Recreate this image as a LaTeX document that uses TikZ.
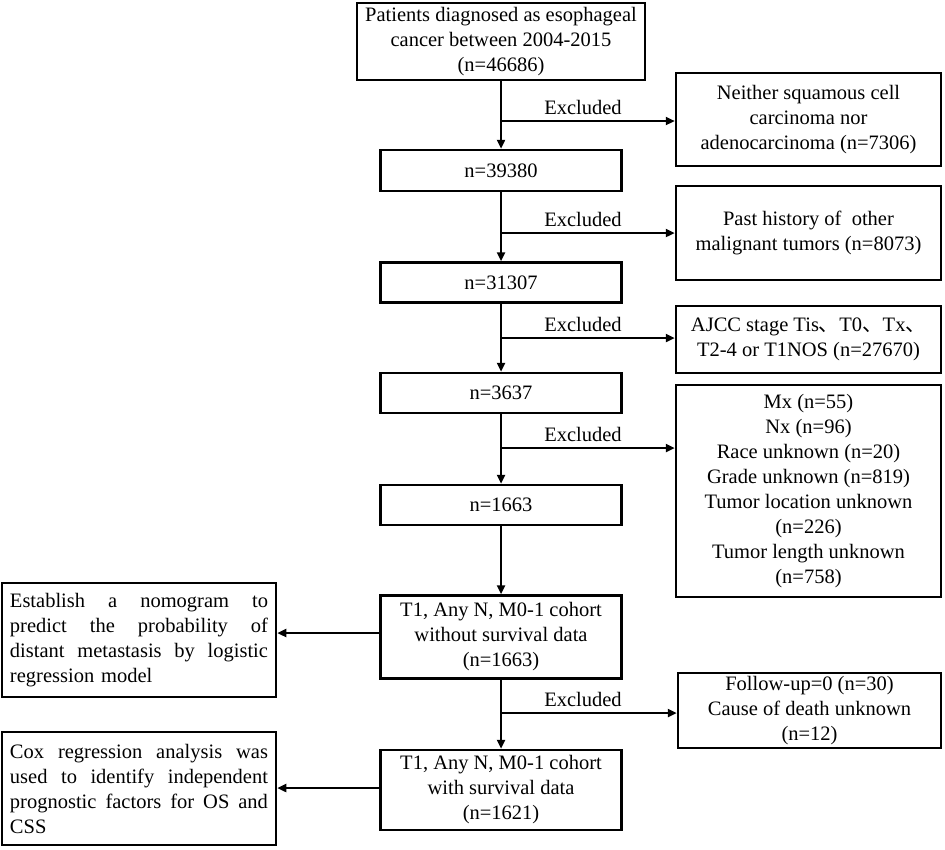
\documentclass[tikz,border=0pt]{standalone}
\usepackage{fontspec}
\setmainfont{Liberation Serif}
\newfontfamily\cjkfont{Noto Sans CJK SC}
\usetikzlibrary{arrows.meta}
\newcommand{\dunhao}{{\cjkfont 、}}
\newcommand{\jline}[1]{\leavevmode\hbox to 258bp{#1}}
\begin{document}
\begin{tikzpicture}[x=1bp,y=-1bp,
  box/.style={draw, line width=2.5bp, rectangle, inner sep=0pt, align=center,
    font=\fontsize{20.5bp}{25bp}\selectfont},
  midbox/.style={box, minimum width=241bp},
  rbox/.style={box, minimum width=265bp},
  lbox/.style={box, align=left, text width=258bp, inner xsep=8bp},
  arr/.style={line width=2.3bp, -{Triangle[length=9bp,width=8bp]}},
  exlabel/.style={font=\fontsize{20.5bp}{25bp}\selectfont, inner sep=0pt}]
\useasboundingbox (0,0) rectangle (945,850);

% main column
\node[box, minimum width=288bp, minimum height=77bp] (top) at (501,41.5)
  {Patients diagnosed as esophageal\\cancer between 2004-2015\\(n=46686)};
\node[midbox, minimum height=41bp] (n1) at (501,170.5) {n=39380};
\node[midbox, minimum height=40bp] (n2) at (501,282.5) {n=31307};
\node[midbox, minimum height=40bp] (n3) at (501,393) {n=3637};
\node[midbox, minimum height=40bp] (n4) at (501,505) {n=1663};
\node[midbox, minimum height=83bp] (t1) at (501,637)
  {T1, Any N, M0-1 cohort\\without survival data\\(n=1663)};
\node[midbox, minimum height=80bp] (t2) at (501,790)
  {T1, Any N, M0-1 cohort\\with survival data\\(n=1621)};

% right column
\node[rbox, minimum height=93bp] (r1) at (808.5,119.5)
  {Neither squamous cell\\carcinoma nor\\adenocarcinoma (n=7306)};
\node[rbox, minimum height=94bp] (r2) at (808.5,233)
  {Past history of\ \ other\\malignant tumors (n=8073)};
\node[rbox, minimum height=67bp] (r3) at (808.5,339.5)
  {AJCC stage Tis\dunhao T0\dunhao Tx\dunhao\\T2-4 or T1NOS (n=27670)};
\node[rbox, minimum height=212bp] (r4) at (808.5,491)
  {Mx (n=55)\\Nx (n=96)\\Race unknown (n=20)\\Grade unknown (n=819)\\Tumor location unknown\\(n=226)\\Tumor length unknown\\(n=758)};
\node[rbox, minimum width=263bp, minimum height=75bp] (r5) at (809.5,710.5)
  {Follow-up=0 (n=30)\\Cause of death unknown\\(n=12)};

% left column
\node[lbox, minimum height=114bp] (l1) at (139,640)
  {\jline{Establish\hfill a\hfill nomogram\hfill to}\\
   \jline{predict\hfill the\hfill probability\hfill of}\\
   \jline{distant\hfill metastasis\hfill by\hfill logistic}\\
   regression model};
\node[lbox, minimum height=113bp] (l2) at (139,788.5)
  {\jline{Cox\hfill regression\hfill analysis\hfill was}\\
   \jline{used\hfill to\hfill identify\hfill independent}\\
   \jline{prognostic\hfill factors\hfill for\hfill OS\hfill and}\\
   CSS};

% junction points
\coordinate (j1) at (501,121);
\coordinate (j2) at (501,233);
\coordinate (j3) at (501,338);
\coordinate (j4) at (501,448);
\coordinate (j5) at (501,713);

% vertical arrows
\draw[arr] (top.south) -- (n1.north);
\draw[arr] (n1.south) -- (n2.north);
\draw[arr] (n2.south) -- (n3.north);
\draw[arr] (n3.south) -- (n4.north);
\draw[arr] (n4.south) -- (t1.north);
\draw[arr] (t1.south) -- (t2.north);

% exclusion arrows
\draw[arr] (j1) -- (j1 -| r1.west);
\draw[arr] (j2) -- (j2 -| r2.west);
\draw[arr] (j3) -- (j3 -| r3.west);
\draw[arr] (j4) -- (j4 -| r4.west);
\draw[arr] (j5) -- (j5 -| r5.west);

% Excluded labels
\node[exlabel] (e1) at (583,107) {Excluded};
\node[exlabel] (e2) at (583,219) {Excluded};
\node[exlabel] (e3) at (583,324) {Excluded};
\node[exlabel] (e4) at (583,434) {Excluded};
\node[exlabel] (e5) at (583,699) {Excluded};

% left arrows
\draw[arr] (t1.west |- 0,633) -- (l1.east |- 0,633);
\draw[arr] (t2.west |- 0,788) -- (l2.east |- 0,788);
\end{tikzpicture}
\end{document}
